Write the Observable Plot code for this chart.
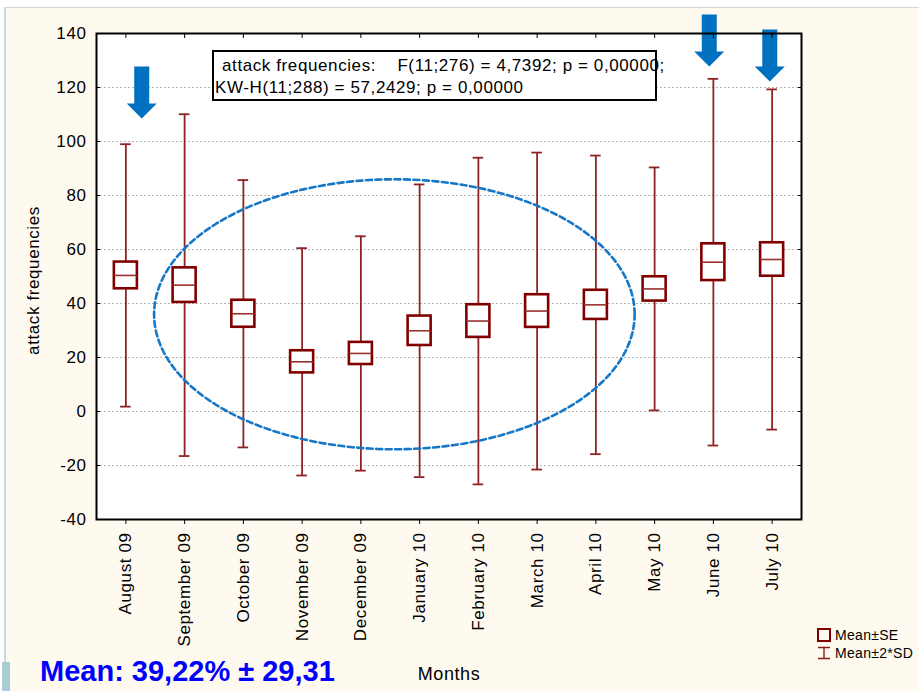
<!DOCTYPE html>
<html>
<head>
<meta charset="utf-8">
<script src="https://cdn.jsdelivr.net/npm/d3@7"></script>
<script src="https://cdn.jsdelivr.net/npm/@observablehq/plot@0.6"></script>
<style>
  html, body { margin: 0; padding: 0; width: 919px; height: 691px; overflow: hidden; background: #ffffff;
    font-family: "Liberation Sans", Arial, sans-serif; }
  #slide { position: absolute; left: 4px; top: 7px; right: 0; bottom: 0; background: #fffaef;
    border-left: 2px solid #c8d6de; border-top: 1px solid #cfd7dc; }
  #slide-tab { position: absolute; left: 2px; top: 662px; width: 8px; height: 29px; background: #a9cdd6; }
  #chart { position: absolute; left: 0; top: 0; }
  #chart svg text { letter-spacing: 0.6px; }
  #stats { position: absolute; left: 212px; top: 50px; width: 441px; height: 47px; border: 2px solid #000;
    background: #fff; font-size: 17px; letter-spacing: 0.6px; line-height: 22px; white-space: pre; color: #000; }
  #stats .l1 { padding-left: 8px; margin-top: 3px; }
  #stats .l2 { padding-left: 1px; }
  #mean-note { position: absolute; left: 40px; top: 655px; font-size: 29px; font-weight: bold; color: #0000ff; white-space: pre; }
  #legend { position: absolute; left: 817px; top: 626px; font-size: 14px; letter-spacing: 0.3px; color: #000; }
  #legend .row { display: flex; align-items: center; height: 18px; }
  #legend .swatch { width: 14px; height: 14px; margin-right: 4px; }
</style>
</head>
<body>
<div id="slide"></div>
<div id="slide-tab"></div>
<div id="chart"></div>
<div id="stats"><div class="l1">attack frequencies:    F(11;276) = 4,7392; p = 0,00000;</div><div class="l2">KW-H(11;288) = 57,2429; p = 0,00000</div></div>
<div id="legend">
  <div class="row"><svg class="swatch" viewBox="0 0 14 14"><rect x="1" y="1" width="12" height="12" fill="none" stroke="#800000" stroke-width="2"/></svg><span>Mean±SE</span></div>
  <div class="row"><svg class="swatch" viewBox="0 0 14 14"><path d="M1,1.5H13M7,1.5V12.5M1,12.5H13" fill="none" stroke="#8b1a1a" stroke-width="1.4"/></svg><span>Mean±2*SD</span></div>
</div>
<div id="mean-note">Mean: 39,22% ± 29,31</div>
<script>
// Monthly attack frequencies: mean, standard error and standard deviation
const months = ["August 09", "September 09", "October 09", "November 09", "December 09", "January 10",
                "February 10", "March 10", "April 10", "May 10", "June 10", "July 10"];
const means = [50.4, 46.8, 36.2, 18.4, 21.5, 29.9, 33.5, 37.2, 39.5, 45.4, 55.3, 56.3];
const se    = [4.95, 6.4, 5.0, 4.1, 4.1, 5.45, 6.05, 6.05, 5.4, 4.5, 6.8, 6.2];
const sd    = [24.3, 31.65, 24.75, 21.05, 21.7, 27.1, 30.25, 29.35, 27.65, 22.5, 33.95, 31.5];
const yTicks = [-40, -20, 0, 20, 40, 60, 80, 100, 120, 140];

// Months flagged with an arrow (arrow tip value) and the winter group circled by the ellipse
const flaggedMonths = ["August 09", "June 10", "July 10"];
const flaggedTips   = [108.5, 127.8, 122.2];
const flaggedNudge  = [0.27, -0.07, -0.04];
const winterEllipse = {cx: 4.57, cy: 36, rx: 4.09, ry: 50};

const rows = months.map((month, i) => ({i, month, mean: means[i], se: se[i], sd: sd[i]}));
const arrows = flaggedMonths.map((m, k) => ({x: months.indexOf(m) + flaggedNudge[k], tip: flaggedTips[k]}));
const ellipse = d3.range(0, 361, 2).map(a => ({
  x: winterEllipse.cx + winterEllipse.rx * Math.cos(a * Math.PI / 180),
  y: winterEllipse.cy + winterEllipse.ry * Math.sin(a * Math.PI / 180)
}));

const boxHalf = 0.196, capHalf = 0.09;
const dark = "#800000", whisk = "#8f2222";

// Downward block arrow symbol; its tip sits on the dot's position
const blockArrow = {
  draw(context) {
    const shaft = 7.5, head = 15, headLen = 15, len = 52;
    context.moveTo(0, 0);
    context.lineTo(-head, -headLen);
    context.lineTo(-shaft, -headLen);
    context.lineTo(-shaft, -len);
    context.lineTo(shaft, -len);
    context.lineTo(shaft, -headLen);
    context.lineTo(head, -headLen);
    context.closePath();
  }
};

const chart = Plot.plot({
  width: 919,
  height: 691,
  marginLeft: 96,
  marginRight: 118,
  marginTop: 33,
  marginBottom: 172,
  style: {fontFamily: '"Liberation Sans", Arial, sans-serif', fontSize: "17px", color: "#000", background: "transparent", overflow: "visible"},
  x: {domain: [-0.5, 11.5], label: null},
  y: {domain: [-40, 140], label: null},
  marks: [
    Plot.frame({fill: "white", stroke: null}),
    Plot.gridY(yTicks.filter(v => v > -40 && v < 140), {stroke: "#b4b4b4", strokeOpacity: 1, strokeDasharray: "2,2"}),
    // ±2·SD whiskers with caps
    Plot.ruleX(rows, {x: "i", y1: d => d.mean - 2 * d.sd, y2: d => d.mean + 2 * d.sd, stroke: whisk, strokeWidth: 1.8}),
    Plot.ruleY(rows, {y: d => d.mean + 2 * d.sd, x1: d => d.i - capHalf, x2: d => d.i + capHalf, stroke: whisk, strokeWidth: 1.8}),
    Plot.ruleY(rows, {y: d => d.mean - 2 * d.sd, x1: d => d.i - capHalf, x2: d => d.i + capHalf, stroke: whisk, strokeWidth: 1.8}),
    // ±SE boxes with the mean line
    Plot.rect(rows, {x1: d => d.i - boxHalf, x2: d => d.i + boxHalf, y1: d => d.mean - d.se, y2: d => d.mean + d.se,
      fill: "white", stroke: dark, strokeWidth: 2.6}),
    Plot.ruleY(rows, {y: "mean", x1: d => d.i - boxHalf, x2: d => d.i + boxHalf, stroke: "#9a3030", strokeWidth: 1.6}),
    // dashed ellipse around the winter months
    Plot.line(ellipse, {x: "x", y: "y", stroke: "#1577c6", strokeWidth: 2.6, strokeDasharray: "6,3.5"}),
    // arrows over the flagged months
    Plot.dot(arrows, {x: "x", y: "tip", symbol: blockArrow, fill: "#0070c0", stroke: "none"}),
    // axes
    Plot.axisY({anchor: "left", ticks: yTicks, tickSize: -4, tickPadding: 14, tickFormat: d => String(d), label: null}),
    Plot.axisY({anchor: "right", ticks: yTicks, tickSize: -4, tickFormat: () => "", label: null}),
    Plot.axisX({anchor: "top", ticks: d3.range(12), tickSize: -4, tickFormat: () => "", label: null}),
    Plot.axisX({anchor: "bottom", ticks: d3.range(12), tickSize: 5, tickPadding: 8, tickRotate: -90,
      tickFormat: i => months[i], label: null}),
    Plot.frame({stroke: "#000", strokeWidth: 2}),
    Plot.text(["attack frequencies"], {frameAnchor: "left", rotate: -90, dx: -63, dy: 4, textAnchor: "middle", lineAnchor: "middle", fontSize: 17}),
    Plot.text(["Months"], {frameAnchor: "bottom", dy: 155, textAnchor: "middle", lineAnchor: "middle", fontSize: 18})
  ]
});
document.getElementById("chart").appendChild(chart);
</script>
</body>
</html>
